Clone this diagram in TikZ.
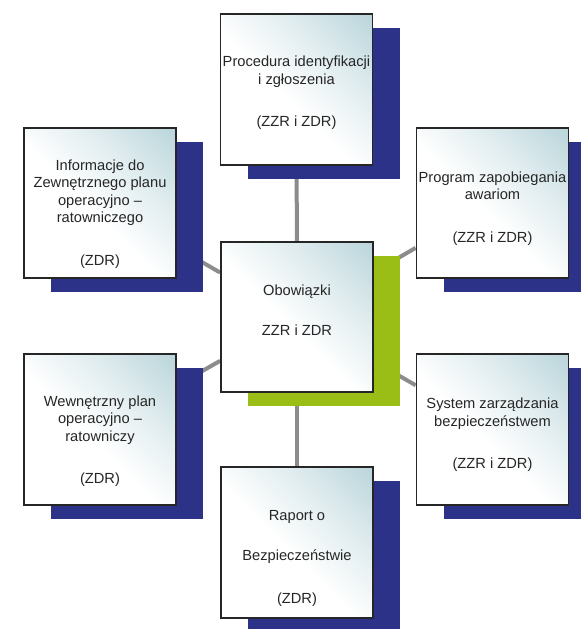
\documentclass[tikz,border=0pt]{standalone}
\usepackage{fontspec}
\setmainfont{Liberation Sans}
\usepackage{tikz}
\usetikzlibrary{shadows,backgrounds,calc}
\usepackage{xcolor}

\definecolor{navyshade}{RGB}{44,50,136}
\definecolor{greenshade}{RGB}{155,190,22}
\definecolor{boxteal}{RGB}{184,212,218}
\definecolor{linkgray}{RGB}{140,140,140}
\definecolor{textgray}{RGB}{38,38,38}

\pgfdeclareverticalshading{boxshade}{100bp}{color(0bp)=(white); color(46bp)=(white);
  color(66bp)=(boxteal!45); color(86bp)=(boxteal); color(100bp)=(boxteal)}

\tikzset{
  box/.style={draw=textgray, line width=1.3pt, minimum width=114pt, minimum height=113pt,
    inner sep=0pt, shading=boxshade, shading angle=-45,
    drop shadow={shadow xshift=20.25pt, shadow yshift=-10.5pt, fill=#1, opacity=1}},
  box/.default=navyshade,
  txt/.style={align=center, inner sep=0pt, text=textgray, font=\fontsize{11}{13.1}\selectfont},
  link/.style={draw=linkgray, line width=3pt}
}

\begin{document}
\begin{tikzpicture}[x=0.75pt, y=-0.75pt]
  \useasboundingbox (0,0) rectangle (581,629);

  % Boxes with their shadows
  \node[box] (proc) at (296.5,89.5) {};
  \node[box] (info) at (100,203) {};
  \node[box] (prog) at (492.5,203) {};
  \node[box=greenshade] (obow) at (297,317) {};
  \node[box] (wewn) at (100,429.5) {};
  \node[box] (sys) at (492.5,429.5) {};
  \node[box] (rap) at (297,542.5) {};

  % Texts
  \node[txt] (procT) at (296.5,93) {Procedura identyfikacji\\ i zgłoszenia\\[18.8pt] (ZZR i ZDR)};
  \node[txt] (infoT) at (100,214) {Informacje do\\ Zewnętrznego planu\\ operacyjno –\\ ratowniczego\\[18.8pt] (ZDR)};
  \node[txt] (progT) at (492.5,208.5) {Program zapobiegania\\ awariom\\[18.8pt] (ZZR i ZDR)};
  \node[txt] (obowT) at (297,310) {Obowiązki\\[16.9pt] ZZR i ZDR};
  \node[txt] (wewnT) at (100,441) {Wewnętrzny plan\\ operacyjno –\\ ratowniczy\\[18.8pt] (ZDR)};
  \node[txt] (sysT) at (492.5,435) {System zarządzania\\ bezpieczeństwem\\[18.8pt] (ZZR i ZDR)};
  \node[txt] (rapT) at (297,558.5) {Raport o\\[16.9pt] Bezpieczeństwie\\[18.8pt] (ZDR)};

  % Connectors behind everything
  \begin{scope}[on background layer]
    \draw[link] (proc) -- (obow);
    \draw[link] (info) -- (obow);
    \draw[link] (prog) -- (obow);
    \draw[link] (wewn) -- (obow);
    \draw[link] (sys) -- (obow);
    \draw[link] (rap) -- (obow);
  \end{scope}
\end{tikzpicture}
\end{document}
